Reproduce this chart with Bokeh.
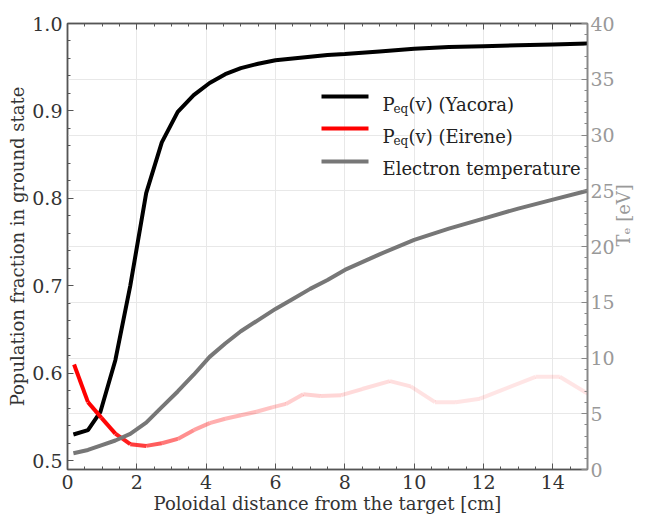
import math
from bokeh.plotting import figure
from bokeh.models import (Range1d, LinearAxis, SingleIntervalTicker, Label, PrintfTickFormatter,
                          BoxAnnotation, CustomJSTickFormatter, ColumnDataSource)
from bokeh.embed import file_html
from bokeh.resources import INLINE

# ---------------- data ----------------
yacora_x = [0.17, 0.59, 0.95, 1.38, 1.81, 2.27, 2.72, 3.18, 3.64, 4.10, 4.55,
            5.0, 5.5, 6.0, 6.5, 7.0, 7.5, 8.0, 9.0, 10.0, 11.0, 12.0, 13.0, 14.0, 15.0]
yacora_p = [0.530, 0.535, 0.556, 0.615, 0.700, 0.806, 0.864, 0.899, 0.918, 0.932, 0.942,
            0.949, 0.954, 0.958, 0.960, 0.962, 0.964, 0.965, 0.968, 0.971, 0.973, 0.974,
            0.975, 0.976, 0.977]

eirene_x = [0.19, 0.59, 0.98, 1.38, 1.81, 2.27, 2.72, 3.18, 3.64, 4.10, 4.55, 5.0, 5.45,
            5.9, 6.3, 6.8, 7.3, 7.9, 8.5, 9.3, 9.9, 10.6, 11.2, 11.9, 12.6, 13.5, 14.2, 15.0]
eirene_p = [0.610, 0.567, 0.549, 0.531, 0.519, 0.517, 0.520, 0.525, 0.535, 0.543, 0.548,
            0.552, 0.556, 0.561, 0.565, 0.576, 0.574, 0.575, 0.582, 0.591, 0.585, 0.567,
            0.567, 0.571, 0.582, 0.596, 0.596, 0.577]
# relative reliability of the Eirene value (shown as opacity in the picture)
eirene_reliability = [1.0, 1.0, 1.0, 0.95, 0.82, 0.70, 0.58, 0.48, 0.40, 0.33, 0.30, 0.27,
                      0.25, 0.22, 0.20, 0.18, 0.17, 0.15, 0.14, 0.13, 0.12, 0.11, 0.11,
                      0.10, 0.10, 0.10, 0.10, 0.10]

te_x = yacora_x
te_ev = [1.46, 1.75, 2.15, 2.6, 3.2, 4.2, 5.6, 7.0, 8.5, 10.1, 11.3, 12.4, 13.4, 14.4,
         15.3, 16.2, 17.0, 17.9, 19.3, 20.6, 21.6, 22.5, 23.4, 24.2, 25.0]

legend_labels = ["(v) (Yacora)", "(v) (Eirene)", "Electron temperature"]

# ---------------- figure ----------------
FONT = "DejaVu Serif"
p = figure(width=647, height=517, x_range=Range1d(0, 15), y_range=Range1d(0.49, 1.0),
           output_backend="svg", toolbar_location=None,
           min_border_left=67, min_border_right=55, min_border_top=23, min_border_bottom=48)
p.extra_y_ranges = {"te": Range1d(0, 40)}
p.background_fill_color = "white"
p.border_fill_color = "white"
p.outline_line_color = "#666666"
p.outline_line_width = 1.5


def style_axis(ax, line_color, label_color):
    ax.axis_line_color = line_color
    ax.axis_line_width = 1.5
    ax.major_tick_line_color = line_color
    ax.minor_tick_line_color = line_color
    ax.major_tick_in = 6
    ax.major_tick_out = 0
    ax.minor_tick_in = 3
    ax.minor_tick_out = 0
    ax.major_label_text_font = FONT
    ax.major_label_text_font_size = "19px"
    ax.major_label_text_color = label_color
    ax.axis_label_text_font = FONT
    ax.axis_label_text_font_size = "18px"
    ax.axis_label_text_font_style = "normal"
    ax.axis_label_text_color = label_color


xb = p.xaxis[0]
xb.ticker = SingleIntervalTicker(interval=2, num_minor_ticks=4)
style_axis(xb, "#555555", "#333333")
xb.axis_label = "Poloidal distance from the target [cm]"
xb.major_label_standoff = 5
xb.axis_label_standoff = 1

yl = p.yaxis[0]
yl.ticker = SingleIntervalTicker(interval=0.1, num_minor_ticks=5)
yl.formatter = PrintfTickFormatter(format="%.1f")
style_axis(yl, "#555555", "#333333")
yl.axis_label = "Population fraction in ground state"
yl.major_label_standoff = 5
yl.axis_label_standoff = 1

yr = LinearAxis(y_range_name="te", ticker=SingleIntervalTicker(interval=5, num_minor_ticks=5))
style_axis(yr, "#888888", "#999999")
yr.axis_label = "T\u2091 [eV]"
yr.axis_label_orientation = math.pi / 2
yr.major_label_standoff = 3
yr.axis_label_standoff = 6
p.add_layout(yr, "right")

xt = LinearAxis(ticker=SingleIntervalTicker(interval=2, num_minor_ticks=4),
                formatter=CustomJSTickFormatter(code="return ''"))
style_axis(xt, "#555555", "#333333")
xt.major_label_text_font_size = "1px"
xt.major_label_standoff = 0
p.add_layout(xt, "above")

p.xgrid.ticker = SingleIntervalTicker(interval=2)
p.xgrid.grid_line_color = "#e8e8e8"
p.ygrid.y_range_name = "te"
p.ygrid.ticker = SingleIntervalTicker(interval=5)
p.ygrid.grid_line_color = "#e8e8e8"

# ---------------- curves ----------------
p.line(yacora_x, yacora_p, line_color="black", line_width=4)

seg = ColumnDataSource(dict(
    x0=eirene_x[:-1], y0=eirene_p[:-1], x1=eirene_x[1:], y1=eirene_p[1:],
    a=[(eirene_reliability[i] + eirene_reliability[i + 1]) / 2 for i in range(len(eirene_x) - 1)]))
p.segment("x0", "y0", "x1", "y1", source=seg, line_color="red", line_alpha="a",
          line_width=4, line_cap="butt")

p.line(te_x, te_ev, y_range_name="te", line_color="#777777", line_width=4)

# ---------------- hand-made legend (subscripted labels) ----------------
sample_colors = ["black", "red", "#777777"]
row_mid = [373, 341, 308]      # px above frame bottom
for c, m in zip(sample_colors, row_mid):
    p.add_layout(BoxAnnotation(left=254, right=301, bottom=m - 2, top=m + 2,
                               left_units="screen", right_units="screen",
                               top_units="screen", bottom_units="screen",
                               fill_color=c, fill_alpha=1.0, line_color=None))

base = [365, 333, 301]
for i in range(2):
    p.add_layout(Label(x=315, y=base[i], x_units="screen", y_units="screen", text="P",
                       text_font=FONT, text_font_size="18px", text_color="#222222",
                       text_baseline="alphabetic"))
    p.add_layout(Label(x=326, y=base[i] - 4, x_units="screen", y_units="screen", text="eq",
                       text_font=FONT, text_font_size="12px", text_color="#222222",
                       text_baseline="alphabetic"))
    p.add_layout(Label(x=341, y=base[i], x_units="screen", y_units="screen",
                       text=legend_labels[i], text_font=FONT, text_font_size="18px",
                       text_color="#222222", text_baseline="alphabetic"))
p.add_layout(Label(x=315, y=base[2], x_units="screen", y_units="screen",
                   text=legend_labels[2], text_font=FONT, text_font_size="18px",
                   text_color="#222222", text_baseline="alphabetic"))

open("out.html", "w").write(file_html(p, INLINE))
